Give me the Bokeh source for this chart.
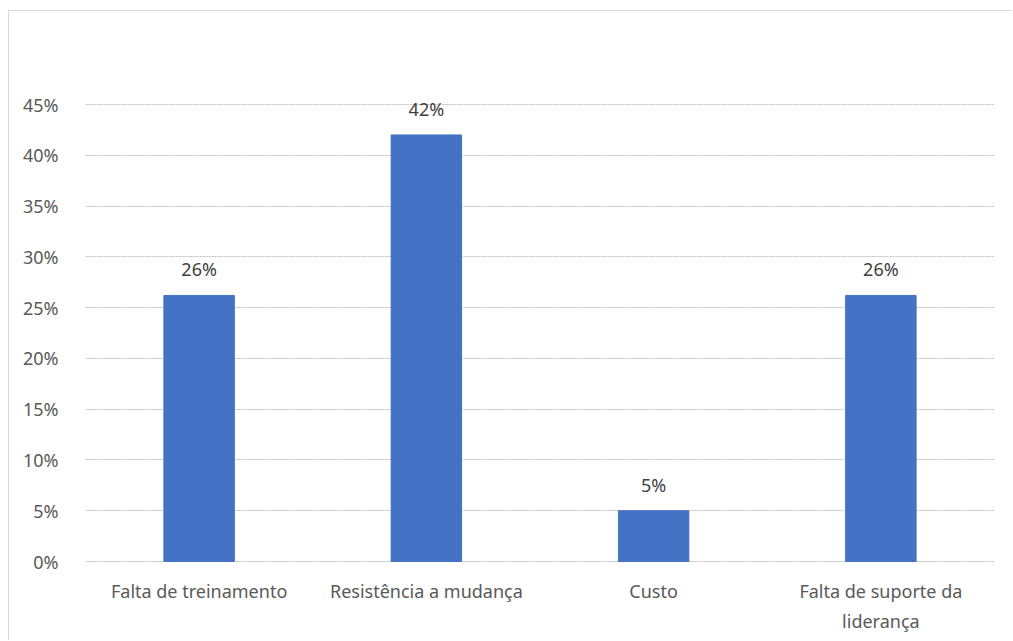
from bokeh.plotting import figure
from bokeh.models import ColumnDataSource, FactorRange, Range1d, LabelSet, NumeralTickFormatter, FixedTicker
from bokeh.core.properties import value
from bokeh.embed import file_html
from bokeh.resources import INLINE

categories = ["Falta de treinamento", "Resistência a mudança", "Custo", "Falta de suporte da liderança"]
category_line1 = ["Falta de treinamento", "Resistência a mudança", "Custo", "Falta de suporte da"]
category_line2 = ["", "", "", "liderança"]
values = [0.262, 0.42, 0.05, 0.262]
value_labels = ["26%", "42%", "5%", "26%"]
y_ticks = [0, 0.05, 0.10, 0.15, 0.20, 0.25, 0.30, 0.35, 0.40, 0.45]

src = ColumnDataSource(dict(cat=categories, val=values, lab=value_labels,
                            l1=category_line1, l2=category_line2, zero=[0] * len(categories)))

# layout: canvas height 630; axis 0 at 550px from top, 45% at 93px from top
H = 630
px_top_axis = 93
px_zero = 550
scale = (px_zero - px_top_axis) / 0.45
y_end = px_zero / scale
y_start = -(H - px_zero) / scale

FONT = "Noto Sans"
FS = "18px"
p = figure(width=1004, height=H, x_range=FactorRange(*categories, range_padding=0),
           y_range=Range1d(y_start, y_end), output_backend="svg", toolbar_location=None,
           min_border_left=76, min_border_right=19, min_border_top=0, min_border_bottom=0,
           margin=(10, 0, 0, 8),
           styles={"border-left": "1px solid #d9d9d9", "border-top": "1px solid #d9d9d9"})
p.x_range.factor_padding = 0
p.vbar(x="cat", top="val", width=0.31, source=src, color="#4472C4")

p.add_layout(LabelSet(x="cat", y="val", text="lab", source=src, text_align="center",
                      text_baseline="alphabetic", y_offset=19, text_color="#404040",
                      text_font=value(FONT), text_font_size=FS))

p.add_layout(LabelSet(x="cat", y="zero", text="l1", source=src, text_align="center",
                      text_baseline="middle", y_offset=-29, text_color="#595959",
                      text_font=value(FONT), text_font_size=FS))
p.add_layout(LabelSet(x="cat", y="zero", text="l2", source=src, text_align="center",
                      text_baseline="middle", y_offset=-59, text_color="#595959",
                      text_font=value(FONT), text_font_size=FS))

p.outline_line_color = None
p.background_fill_color = "white"
p.border_fill_color = "white"

p.yaxis.ticker = FixedTicker(ticks=y_ticks)
p.yaxis.formatter = NumeralTickFormatter(format="0%")
p.yaxis.axis_line_color = None
p.yaxis.major_tick_line_color = None
p.yaxis.minor_tick_line_color = None
p.yaxis.major_label_text_font = FONT
p.yaxis.major_label_text_font_size = FS
p.yaxis.major_label_text_color = "#595959"
p.yaxis.major_label_standoff = 21

p.xaxis.visible = False

p.xgrid.grid_line_color = None
p.ygrid.ticker = FixedTicker(ticks=y_ticks)
p.ygrid.grid_line_color = "#bfbfbf"
p.ygrid.grid_line_dash = "2 1"
p.ygrid.grid_line_width = 1

open("out.html", "w").write(file_html(p, INLINE))
